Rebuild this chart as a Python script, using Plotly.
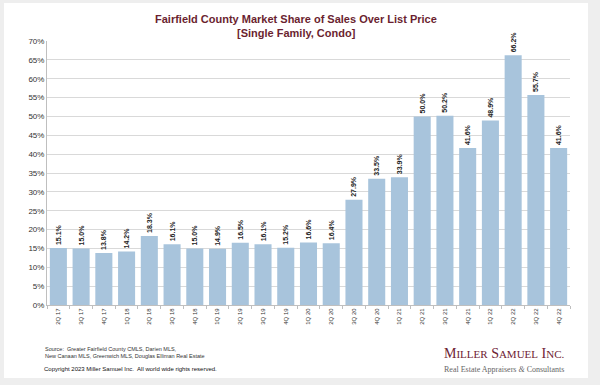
import plotly.graph_objects as go

quarters = ["2Q 17", "3Q 17", "4Q 17", "1Q 18", "2Q 18", "3Q 18", "4Q 18", "1Q 19",
            "2Q 19", "3Q 19", "4Q 19", "1Q 20", "2Q 20", "3Q 20", "4Q 20", "1Q 21",
            "2Q 21", "3Q 21", "4Q 21", "1Q 22", "2Q 22", "3Q 22", "4Q 22"]
share = [15.1, 15.0, 13.8, 14.2, 18.3, 16.1, 15.0, 14.9, 16.5, 16.1, 15.2, 16.6,
         16.4, 27.9, 33.5, 33.9, 50.0, 50.2, 41.6, 48.9, 66.2, 55.7, 41.6]
y_ticks = list(range(0, 75, 5))
y_tick_labels = [f"{v}%" for v in y_ticks]

W, H = 600, 385
ML, MR, MT, MB = 47, 30, 41, 80
PW, PH = W - ML - MR, H - MT - MB


def px(x):
    return (x - ML) / PW


def py(y):
    return (H - MB - y) / PH


fig = go.Figure()
fig.add_trace(go.Bar(
    x=quarters, y=share,
    marker=dict(color="#a8c4dc", line=dict(width=0)),
    text=[f"<b>{v:.1f}%</b>" for v in share],
    textposition="outside", textangle=-90, constraintext="none",
    cliponaxis=False,
    textfont=dict(family="Liberation Sans, Arial", size=7, color="#222222"),
    hoverinfo="skip",
))

fig.update_layout(
    width=W, height=H,
    margin=dict(l=ML, r=MR, t=MT, b=MB, autoexpand=False),
    paper_bgcolor="#eeeeee", plot_bgcolor="#ffffff",
    bargap=0.25, showlegend=False,
    font=dict(family="Liberation Sans, Arial", color="#333333"),
    shapes=[dict(type="rect", xref="paper", yref="paper",
                 x0=px(4), x1=px(588), y0=py(378), y1=py(3),
                 fillcolor="#ffffff", line=dict(width=0), layer="below")],
)
fig.update_xaxes(
    type="category", tickangle=-90, tickfont=dict(size=6, color="#333333"),
    showline=True, linecolor="#bfbfbf", linewidth=1,
    ticks="outside", tickson="boundaries", ticklen=3, tickcolor="#bfbfbf",
    showgrid=False,
)
fig.update_yaxes(
    range=[0, 70], tickvals=y_ticks, ticktext=y_tick_labels,
    tickfont=dict(size=8, color="#333333"),
    showgrid=True, gridcolor="#d9d9d9", gridwidth=1,
    showline=True, linecolor="#bfbfbf", linewidth=1,
    zeroline=False, ticks="", ticklen=0,
)

ann = [
    dict(text="<b>Fairfield County Market Share of Sales Over List Price</b>",
         x=px(296), y=py(19), font=dict(size=11, color="#6b1f30")),
    dict(text="<b>[Single Family, Condo]</b>",
         x=px(296), y=py(33), font=dict(size=11, color="#6b1f30")),
    dict(text="Source:  Greater Fairfield County CMLS, Darien MLS,",
         x=px(43), y=py(349), xanchor="left", font=dict(size=5.5, color="#333333")),
    dict(text="New Canaan MLS, Greenwich MLS, Douglas Elliman Real Estate",
         x=px(43), y=py(356), xanchor="left", font=dict(size=5.5, color="#333333")),
    dict(text="Copyright 2023 Miller Samuel Inc.  All world wide rights reserved.",
         x=px(42), y=py(369), xanchor="left", font=dict(size=6, color="#111111")),
    dict(text='M<span style="font-size:11px">ILLER</span> S<span style="font-size:11px">AMUEL</span> I<span style="font-size:11px">NC.</span>',
         x=px(566), y=py(353), xanchor="right",
         font=dict(family="Liberation Serif, Times New Roman", size=14, color="#6e2233")),
    dict(text="Real Estate Appraisers <i>&amp;</i> Consultants",
         x=px(566), y=py(369), xanchor="right",
         font=dict(family="Liberation Serif, Times New Roman", size=8, color="#666666")),
]
for a in ann:
    a.setdefault("xanchor", "center")
    a.update(xref="paper", yref="paper", yanchor="middle", showarrow=False)
fig.update_layout(annotations=ann)

fig.write_html("out.html", config={"displayModeBar": False},
               post_script="document.body.style.margin='0';document.body.style.background='#eeeeee';")
